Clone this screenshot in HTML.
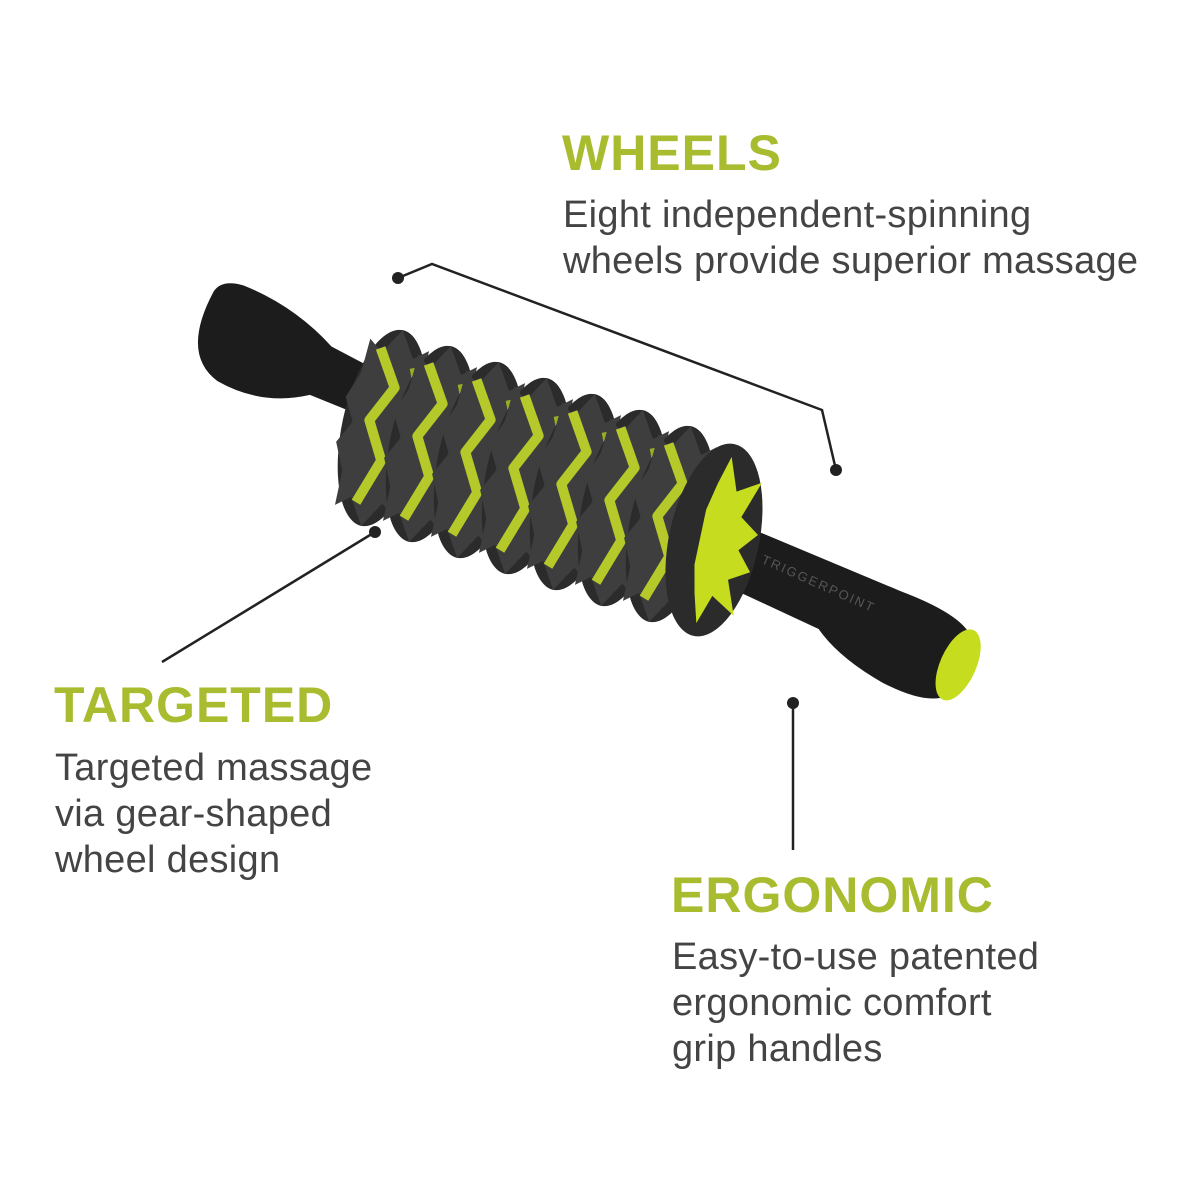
<!DOCTYPE html>
<html><head><meta charset="utf-8"><style>
html,body{margin:0;padding:0;background:#fff;}
body{width:1200px;height:1200px;position:relative;overflow:hidden;font-family:"Liberation Sans",sans-serif;}
.h{position:absolute;color:#a9bb2e;font-weight:bold;font-size:50px;letter-spacing:1px;}
.d{position:absolute;color:#444;font-size:38px;line-height:46px;letter-spacing:0.3px;}
svg{position:absolute;left:0;top:0;}
</style></head><body>
<svg width="1200" height="1200" viewBox="0 0 1200 1200">
<defs>
<g id="wheel">
  <ellipse cx="0" cy="0" rx="40" ry="100" fill="#2b2b2b"/>
  <polygon points="0,-100 16,-74 30,-85 30,-50 42,-28 30,-8 42,17 32,46 30,85 16,74 0,100 -16,74 -30,85 -30,50 -42,23 -30,0 -42,-23 -32,-50 -30,-85 -16,-74" fill="#3e3e3e"/>
  <path d="M-18,-78 L4,-42 L-14,-5 L6,32 L-10,78" stroke="#b5c92a" stroke-width="10" fill="none" stroke-linejoin="round"/>
  <path d="M18,-65 L34,-28 L20,10" stroke="#9aad25" stroke-width="7" fill="none"/>
</g>
</defs>
<g transform="translate(585,490) rotate(24)">
  <path d="M-420,-30 Q-425,40 -380,50 Q-330,55 -290,25 L-200,22 L-200,-22 L-290,-28 Q-340,-50 -395,-48 Q-418,-45 -420,-30 Z" fill="#1c1c1c"/>
  <rect x="-220" y="-24" width="400" height="48" fill="#111"/>
  <path d="M155,-32 L330,-36 Q400,-40 415,-20 L415,40 Q400,58 350,55 Q300,50 270,32 L155,30 Z" fill="#1c1c1c"/>
  <ellipse cx="412" cy="8" rx="18" ry="38" fill="#c6dc1e"/>
  <text x="190" y="-5" font-family="Liberation Sans" font-size="13" fill="#555" letter-spacing="2">TRIGGERPOINT</text>
</g>
<g>
  <use href="#wheel" transform="translate(382,428) rotate(12)"/>
  <use href="#wheel" transform="translate(430,444) rotate(12)"/>
  <use href="#wheel" transform="translate(478,460) rotate(12)"/>
  <use href="#wheel" transform="translate(526,476) rotate(12)"/>
  <use href="#wheel" transform="translate(574,492) rotate(12)"/>
  <use href="#wheel" transform="translate(622,508) rotate(12)"/>
  <use href="#wheel" transform="translate(670,524) rotate(12)"/>
  <g transform="translate(714,540) rotate(12)">
    <ellipse cx="0" cy="0" rx="45" ry="98" fill="#2b2b2b"/>
    <polygon points="0,-85 12,-52 35,-66 22,-28 42,-14 26,5 42,24 22,36 35,70 10,55 0,85 -8,56 -14,28 -14,-28 -8,-56" fill="#c6dc1e"/>
  </g>
</g>
<g stroke="#222" stroke-width="2.5" fill="none">
  <polyline points="398,278 432,264 822,410 836,470"/>
  <line x1="375" y1="532" x2="162" y2="662"/>
  <line x1="793" y1="703" x2="793" y2="850"/>
</g>
<g fill="#222">
  <circle cx="398" cy="278" r="6"/>
  <circle cx="836" cy="470" r="6"/>
  <circle cx="375" cy="532" r="6"/>
  <circle cx="793" cy="703" r="6"/>
</g>
</svg>
<div class="h" style="left:562px;top:124px;">WHEELS</div>
<div class="d" style="left:563px;top:192px;">Eight independent-spinning<br>wheels provide superior massage</div>
<div class="h" style="left:54px;top:676px;">TARGETED</div>
<div class="d" style="left:55px;top:745px;">Targeted massage<br>via gear-shaped<br>wheel design</div>
<div class="h" style="left:671px;top:866px;">ERGONOMIC</div>
<div class="d" style="left:672px;top:934px;">Easy-to-use patented<br>ergonomic comfort<br>grip handles</div>
</body></html>
